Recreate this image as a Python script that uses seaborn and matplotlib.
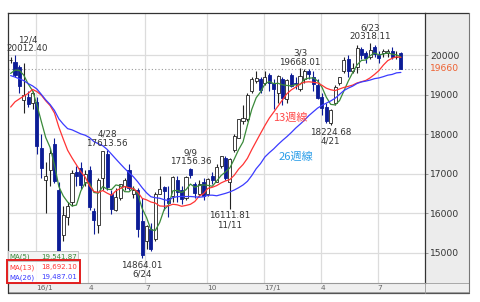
import numpy as np
import pandas as pd
import matplotlib
matplotlib.use("Agg")
import matplotlib.pyplot as plt
from matplotlib.patches import Rectangle
import seaborn as sns

# ---------------- data ----------------
# weekly closes before the visible window (used only for the moving averages)
prior_closes = [20461, 20407, 20174, 20706, 20540, 19780, 20650, 20545, 20585,
                20725, 20520, 19436, 19136, 17792, 18264, 18070, 17880,
                17725, 18438, 18291, 18825, 19083, 19265, 19597, 19880]

opens = [19880, 19840, 19700, 18880, 18950, 18800, 18818, 17650, 16850, 17100,
         17750, 16600, 15450, 15900, 16300, 17050, 17150, 16800, 17100, 16050,
         15700, 16900, 17500, 16500, 16100, 16400, 16700, 17100, 16500, 16600,
         15800, 15300, 15600, 15350, 16500, 16670, 16400, 16450, 16850, 16600,
         16400, 17130, 16750, 16500, 16800, 16500, 16950, 16800, 17200, 17400,
         16800, 17600, 17900, 18350, 18400, 19100, 19350, 19400, 19300, 19500,
         19300, 19050, 19400, 18900, 19500, 19300, 19150, 19400, 19600, 19450,
         19250, 18950, 18700, 18300, 18800, 19300, 19600, 19900, 19600, 19700,
         20150, 20050, 19950, 20200, 20000, 20050, 20050, 20100, 19950, 20060]
highs = [19960, 20012.40, 19750, 19800, 19100, 19100, 18951, 18000, 17300, 17650,
         17905, 16800, 16200, 16300, 17100, 17200, 17300, 17100, 17200, 16150,
         16900, 17580, 17613.56, 16600, 16650, 16750, 16900, 17250, 16700, 16650,
         16400, 15700, 15750, 16550, 16940, 16700, 16700, 16950, 16950, 16700,
         16950, 17156.36, 16800, 16850, 16900, 16900, 17050, 17250, 17450, 17450,
         17400, 18000, 18400, 18750, 19050, 19450, 19600, 19450, 19615, 19550,
         19400, 19500, 19450, 19400, 19550, 19450, 19668.01, 19650, 19650, 19600,
         19400, 19050, 18800, 18650, 19250, 19450, 19950, 20000, 19800, 20250,
         20200, 20100, 20318.11, 20250, 20100, 20150, 20150, 20200, 20100, 20080]
lows = [19810, 19460, 19050, 18550, 18700, 18650, 17509, 16900, 16017, 16700,
        16780, 14866, 15300, 15700, 16200, 16700, 16630, 16700, 16100, 15470,
        15500, 16600, 16600, 15975, 16050, 16350, 16600, 16600, 16400, 15400,
        14864.01, 15100, 15050, 15300, 16480, 16100, 15900, 16300, 16300, 16250,
        16350, 16900, 16400, 16450, 16350, 16450, 16750, 16800, 17150, 16850,
        16111.81, 17550, 17900, 18250, 18350, 19050, 19300, 19050, 19250, 19100,
        18650, 18800, 18750, 18800, 19200, 19150, 19100, 19300, 19400, 19100,
        18900, 18500, 18300, 18224.68, 18750, 19250, 19550, 19450, 19550, 19550,
        19900, 19800, 19900, 19950, 19800, 19950, 19950, 19900, 19900, 19650]
closes = [19884, 19504, 19230, 18987, 18769, 19034, 17698, 17147, 16958, 17518,
          16820, 14953, 15967, 16188, 17015, 16939, 16725, 17003, 16164, 15822,
          16848, 17572, 16666, 16107, 16412, 16736, 16835, 16642, 16601, 15600,
          14952, 15682, 15107, 16498, 16627, 16569, 16254, 16920, 16546, 16361,
          16926, 16966, 16519, 16754, 16450, 16860, 16856, 17185, 17446, 16905,
          17375, 17967, 18381, 18426, 18996, 19401, 19428, 19114, 19454, 19287,
          19138, 19467, 18918, 19379, 19235, 19284, 19469, 19605, 19522, 19263,
          18909, 18665, 18336, 18621, 19197, 19446, 19884, 19591, 19687, 20177,
          20013, 19943, 20133, 20033, 19929, 20119, 20100, 19960, 19952, 19660]

month_tick_weeks = [6, 18, 31, 45, 58, 71, 84]
month_tick_labels = ["16/1", "4", "7", "10", "17/1", "4", "7"]
price_ticks = [15000, 16000, 17000, 18000, 19000, 20000]
current_price = 19660

ma_windows = [5, 13, 26]
ma_names = ["MA(5)", "MA(13)", "MA(26)"]
ma_value_texts = ["19,541.87", "18,692.10", "19,487.01"]
ma_colors = ["#3a8a3a", "#ff3434", "#3b3bff"]

extreme_weeks = [1, 22, 30, 41, 50, 66, 73, 82]
extreme_kinds = ["high", "high", "low", "high", "low", "high", "low", "high"]
extreme_dates = ["12/4", "4/28", "6/24", "9/9", "11/11", "3/3", "4/21", "6/23"]

# ---------------- style ----------------
sns.set_style("white")
plt.rcParams["font.family"] = ["DejaVu Sans", "Noto Sans CJK JP"]

W, H = 480, 302
fig = plt.figure(figsize=(W / 100, H / 100), dpi=100)
fig.patch.set_facecolor("white")


def fx(x):
    return x / W


def fy(y):
    return 1 - y / H


ax = fig.add_axes([fx(8), fy(283), (425 - 8) / W, (283 - 13) / H])

n = len(closes)
idx = np.arange(n)
o = np.array(opens, float)
h = np.array(highs, float)
l = np.array(lows, float)
c = np.array(closes, float)
up = c >= o

navy = "#0c1c96"
wick_cols = ["#222222" if u else navy for u in up]
ax.vlines(idx, l, h, colors=wick_cols, lw=0.8, zorder=2)
body_bottom = np.minimum(o, c)
body_h = np.maximum(np.abs(c - o), 8)
ax.bar(idx, body_h, bottom=body_bottom, width=0.7,
       color=["white" if u else navy for u in up],
       edgecolor=["#222222" if u else navy for u in up], linewidth=0.6, zorder=3)

# moving averages
all_close = pd.Series(prior_closes + closes, dtype=float)
for win, col in zip(ma_windows, ma_colors):
    ma = all_close.rolling(win).mean().iloc[len(prior_closes):].to_numpy()
    sns.lineplot(x=idx, y=ma, color=col, lw=0.9, ax=ax, zorder=4)

ax.axhline(current_price, color="#9a9a9a", lw=0.8, ls=(0, (1, 2)), zorder=1)

ax.set_xlim(-0.6, 94.5)
ax.set_ylim(14241, 21070)

# grid
ax.set_yticks(price_ticks)
ax.set_yticklabels([str(t) for t in price_ticks])
ax.set_xticks([w - 0.25 for w in month_tick_weeks])
ax.set_xticklabels(month_tick_labels)
ax.grid(True, color="#dcdcdc", lw=0.9, zorder=0)
ax.set_axisbelow(True)
ax.yaxis.tick_right()
ax.tick_params(axis="y", length=2, width=0.6, color="#888888", pad=1.5,
               labelsize=6.6, labelcolor="#333333")
ax.tick_params(axis="x", length=0, pad=1.2, labelsize=5.4, labelcolor="#666666")
for lbl in ax.get_xticklabels():
    lbl.set_horizontalalignment("left")
for sp in ["top", "left", "right"]:
    ax.spines[sp].set_color("#333333")
    ax.spines[sp].set_linewidth(0.9)
ax.spines["bottom"].set_color("#999999")
ax.spines["bottom"].set_linewidth(0.8)

# current price label in the right panel
ax.annotate(str(current_price), xy=(1, current_price),
            xycoords=("axes fraction", "data"), xytext=(3.6, 0),
            textcoords="offset points", ha="left", va="center",
            fontsize=6.6, color="#ee6030")

# extreme labels
for w, kind, d in zip(extreme_weeks, extreme_kinds, extreme_dates):
    if kind == "high":
        txt = f"{d}\n{highs[w]:.2f}"
        yv, dy, va = highs[w], 1.2, "bottom"
    else:
        txt = f"{lows[w]:.2f}\n{d}"
        yv, dy, va = lows[w], -1.6, "top"
    if w == extreme_weeks[0]:
        ax.annotate(txt, xy=(0, yv), xycoords=("axes fraction", "data"),
                    xytext=(-0.8, dy), textcoords="offset points", ha="left",
                    va=va, multialignment="center", fontsize=6.3,
                    linespacing=1.0, color="#333333", zorder=6)
    else:
        ax.annotate(txt, xy=(w, yv), xytext=(0, dy), textcoords="offset points",
                    ha="center", va=va, multialignment="center", fontsize=6.3,
                    linespacing=1.0, color="#333333", zorder=6)

ax.text(63.7, 18414, "13週線", color="#ff4848", fontsize=8, ha="center",
        va="center", family=["Noto Sans CJK JP", "DejaVu Sans"], zorder=6)
ax.text(65.1, 17428, "26週線", color="#2a9de8", fontsize=8, ha="center",
        va="center", family=["Noto Sans CJK JP", "DejaVu Sans"], zorder=6)

# right panel and bottom strip (figure-level backgrounds)
fig.patches.append(Rectangle((fx(425), fy(283)), 44 / W, 270 / H,
                             transform=fig.transFigure, facecolor="#ececec",
                             edgecolor="none", zorder=-1))
fig.patches.append(Rectangle((fx(8), fy(292)), 461 / W, 9 / H,
                             transform=fig.transFigure, facecolor="#efefef",
                             edgecolor="#a8a8a8", lw=0.7, zorder=-1))
fig.lines.append(plt.Line2D([fx(425), fx(469)], [fy(13), fy(13)],
                            transform=fig.transFigure, color="#333333", lw=0.9))
fig.lines.append(plt.Line2D([fx(469), fx(469)], [fy(13), fy(292)],
                            transform=fig.transFigure, color="#777777", lw=0.8))
fig.lines.append(plt.Line2D([fx(8), fx(469)], [fy(292.5), fy(292.5)],
                            transform=fig.transFigure, color="#555555", lw=0.9))
fig.lines.append(plt.Line2D([fx(8), fx(8)], [fy(283), fy(292.5)],
                            transform=fig.transFigure, color="#333333", lw=0.9))
fig.lines.append(plt.Line2D([fx(425), fx(425)], [fy(283), fy(292.5)],
                            transform=fig.transFigure, color="#999999", lw=0.6))

# MA legend box
fig.patches.append(Rectangle((fx(8), fy(283)), 70 / W, 32 / H,
                             transform=fig.transFigure, facecolor="white",
                             edgecolor="none", alpha=0.85, zorder=5))
fig.patches.append(Rectangle((fx(8), fy(261)), 70 / W, 10 / H,
                             transform=fig.transFigure, facecolor="#f3f3f3",
                             edgecolor="#bbbbbb", lw=0.6, zorder=5))
row_y = [256.5, 267.5, 277.5]
for name, val, col, yy in zip(ma_names, ma_value_texts, ma_colors, row_y):
    fig.text(fx(9), fy(yy), name, color=col, fontsize=5, ha="left",
             va="center", zorder=7)
    fig.text(fx(77), fy(yy), val, color=col, fontsize=5, ha="right",
             va="center", zorder=7)
fig.patches.append(Rectangle((fx(7), fy(283)), 73 / W, 23 / H,
                             transform=fig.transFigure, facecolor="none",
                             edgecolor="#e21e1e", lw=1.4, zorder=8))

fig.savefig("out.png", dpi=100)
